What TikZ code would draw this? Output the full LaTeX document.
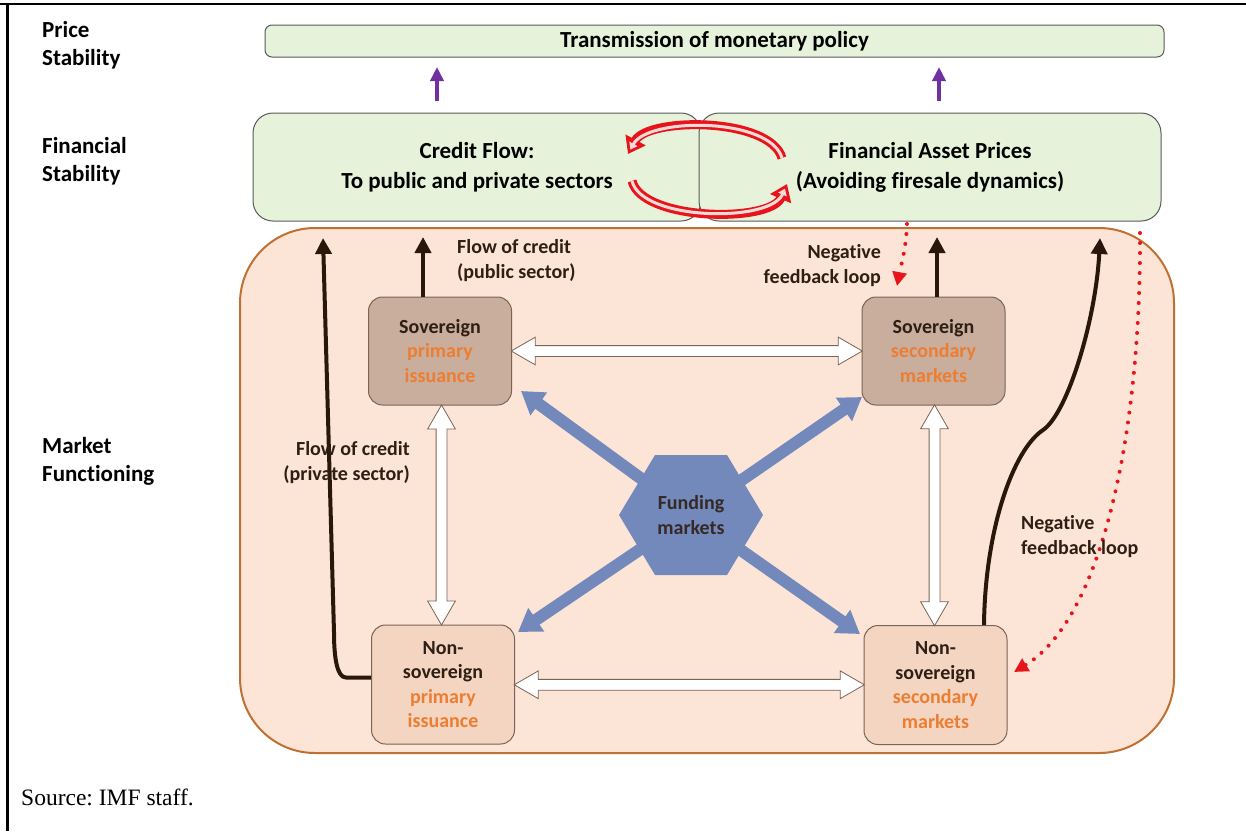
\documentclass[tikz,border=0pt]{standalone}
\usepackage{fontspec}
\setmainfont{Carlito}[Ligatures=CommonOff]
\newfontfamily\srcfont{Liberation Serif}
\usepackage{xcolor}
\usetikzlibrary{calc,shapes.arrows,arrows.meta}
\definecolor{greenfill}{HTML}{E7F2DA}
\definecolor{boxgray}{HTML}{595959}
\definecolor{peach}{HTML}{FCE4D6}
\definecolor{mktline}{HTML}{C07030}
\definecolor{sovfill}{HTML}{C9AE9E}
\definecolor{nsovfill}{HTML}{F3D5C2}
\definecolor{smallline}{HTML}{7A6456}
\definecolor{txtorange}{HTML}{ED7D31}
\definecolor{txtdark}{HTML}{2E1E14}
\definecolor{creditbrown}{HTML}{2A170B}
\definecolor{fundblue}{HTML}{7389BB}
\definecolor{loopred}{HTML}{E8141B}
\definecolor{looppink}{HTML}{FADAD6}
\definecolor{policypurple}{HTML}{7030A0}
\newcommand{\orng}{\textcolor{txtorange}}
\newcommand{\looparrow}[1]{\draw[loopout] #1; \draw[loopin] #1;}
\frenchspacing

\begin{document}
\begin{tikzpicture}[x=1pt, y=-1pt,
    side/.style={anchor=base west, align=left, inner sep=0pt, font=\fontsize{23}{28}\selectfont\bfseries},
    greenbox/.style={draw=boxgray, fill=greenfill, line width=1pt, align=center, text=black,
      font=\fontsize{23}{30}\selectfont\bfseries},
    mktbox/.style={draw=mktline, fill=peach, line width=2pt, rounded corners=75pt},
    sovbox/.style={draw=smallline, fill=sovfill, line width=1pt, rounded corners=14pt,
      minimum width=143pt, minimum height=108pt, align=center, text=txtdark,
      font=\fontsize{20}{24.5}\selectfont\bfseries},
    nsovbox/.style={sovbox, fill=nsovfill, minimum height=119pt},
    hollow/.style={double arrow, draw=smallline, fill=white, line width=0.8pt, inner sep=5pt,
      double arrow head extend=8.5pt, double arrow tip angle=60, outer sep=0pt},
    fundarrow/.style={draw=fundblue, line width=12pt, -{Triangle[width=27pt,length=22pt]}},
    credit/.style={draw=creditbrown, line width=4pt, -{Triangle[width=16pt,length=16pt]}},
    policy/.style={draw=policypurple, line width=4pt, -{Triangle[width=13pt,length=14pt]}},
    feedback/.style={draw=loopred, line width=4pt, line cap=round, dash pattern=on 0pt off 10pt,
      -{Triangle[width=14pt,length=14pt]}},
    loopout/.style={draw=loopred, line width=9pt, -{Triangle[width=22pt,length=16pt]}},
    loopin/.style={draw=looppink, line width=3pt, shorten >=5pt, -{Triangle[width=9pt,length=6.5pt]}},
    lbl/.style={inner sep=0pt, text=txtdark, font=\fontsize{20}{25}\selectfont\bfseries}]
\useasboundingbox (0,0) rectangle (1246,831);

% frame
\draw[line width=1.2pt] (7,4) -- (1246,4);
\draw[line width=2.5pt] (0,4) -- (27,4);
\draw[line width=2.5pt] (1227,4) -- (1246,4);
\draw[line width=2.5pt] (7.5,4) -- (7.5,831);

% levels (base = last line)
\node[side] (lvprice) at (42,65) {Price\\Stability};
\node[side] (lvfin) at (42,181) {Financial\\Stability};
\node[side] (lvmkt) at (42,481) {Market\\Functioning};

% top two layers
\node[greenbox, rounded corners=7pt, minimum width=899pt, minimum height=32pt] (tmp) at (714.5,41)
  {Transmission of monetary policy};
\node[greenbox, rounded corners=20pt, minimum width=448pt, minimum height=108pt] (cf) at (477,167)
  {Credit Flow:\\To public and private sectors};
\node[greenbox, rounded corners=20pt, minimum width=462pt, minimum height=108pt] (fap) at (930,167)
  {Financial Asset Prices\\(Avoiding firesale dynamics)};

\coordinate (pl0) at (437,101);
\coordinate (pl1) at (437,67);
\coordinate (pr0) at (939,101);
\coordinate (pr1) at (939,67);
\draw[policy] (pl0) -- (pl1);
\draw[policy] (pr0) -- (pr1);

% loop between the two boxes
\coordinate (la) at (782,158);
\coordinate (lb) at (628,154);
\coordinate (lc) at (632,181);
\coordinate (ld) at (787,184);
\looparrow{(la) .. controls (770,117) and (648,117) .. (lb)}
\looparrow{(lc) .. controls (642,221) and (770,223) .. (ld)}

% market functioning
\node[mktbox, minimum width=934pt, minimum height=525pt] (mkt) at (707,490.5) {};

\node[sovbox] (sp) at (440,351) {Sovereign\\\orng{primary}\\\orng{issuance}};
\node[sovbox] (ss) at (933.5,351) {Sovereign\\\orng{secondary}\\\orng{markets}};
\node[nsovbox] (np) at (443,684.5) {Non-\\sovereign\\\orng{primary}\\\orng{issuance}};
\node[nsovbox] (ns) at (935.5,685) {Non-\\sovereign\\\orng{secondary}\\\orng{markets}};

\node[hollow, minimum height=351pt] (hsov) at ($(sp.east)!.5!(ss.west)$) {};
\node[hollow, minimum height=350pt] (hnsov) at ($(np.east)!.5!(ns.west)$) {};
\node[hollow, rotate=90, minimum height=220pt] (hprim) at ($(sp.south)!.5!(np.north)$) {};
\node[hollow, rotate=90, minimum height=221pt] (hsec) at ($(ss.south)!.5!(ns.north)$) {};

% funding markets
\coordinate (fc) at (691,515);
\coordinate (ful) at (521,391);
\coordinate (fur) at (862,397);
\coordinate (fll) at (518,632);
\coordinate (flr) at (860,634);
\foreach \t in {ful,fur,fll,flr}
  \draw[fundarrow] (fc) -- (\t);
\fill[fundblue] (619,515) -- (655,455) -- (727,455) -- (763,515) -- (727,575) -- (655,575) -- cycle;
\node[lbl, align=center, text=txtdark!90!fundblue] (fund) at (fc) {Funding\\markets};

% flows of credit
\coordinate (cpub) at (423,237);
\coordinate (cpriv) at (323,238);
\coordinate (csov) at (937,237);
\coordinate (cnsov) at (1100,238);
\draw[credit] ([xshift=-17pt]sp.north) -- (cpub);
\draw[credit] ([xshift=3.5pt]ss.north) -- (csov);
\draw[credit] ([yshift=7pt]np.west) -- ++(-25,0) .. controls +(-9,0) and +(0,25) .. ++(-12,-45) -- (cpriv);
\draw[credit] ([xshift=48.5pt]ns.north) .. controls +(1,-95) and +(-30,20) .. (1043,430)
  .. controls +(25,-17) and +(-4,80) .. (cnsov);

\node[lbl, anchor=base west, align=left] (lpub) at (457,278) {Flow of credit\\(public sector)};
\node[lbl, anchor=base east, align=right] (lpriv) at (410,480) {Flow of credit\\(private sector)};

% negative feedback
\coordinate (nf0) at (907,224);
\coordinate (nf1) at (897,286);
\coordinate (nf2) at (1140,233);
\coordinate (nf3) at (1014,672);
\draw[feedback] (nf0) .. controls (906,250) and (901,265) .. (nf1);
\draw[feedback] (nf2) .. controls (1141,440) and (1100,620) .. (nf3);
\node[lbl, anchor=base east, align=right] (lnf1) at (881,283) {Negative\\feedback loop};
\node[lbl, anchor=base west, align=left] (lnf2) at (1021,554) {Negative\\feedback loop};

\node[anchor=base west, inner sep=0pt, font=\srcfont\fontsize{23.5}{28}\selectfont] (src) at (21,805)
  {Source: IMF staff.};
\end{tikzpicture}
\end{document}
